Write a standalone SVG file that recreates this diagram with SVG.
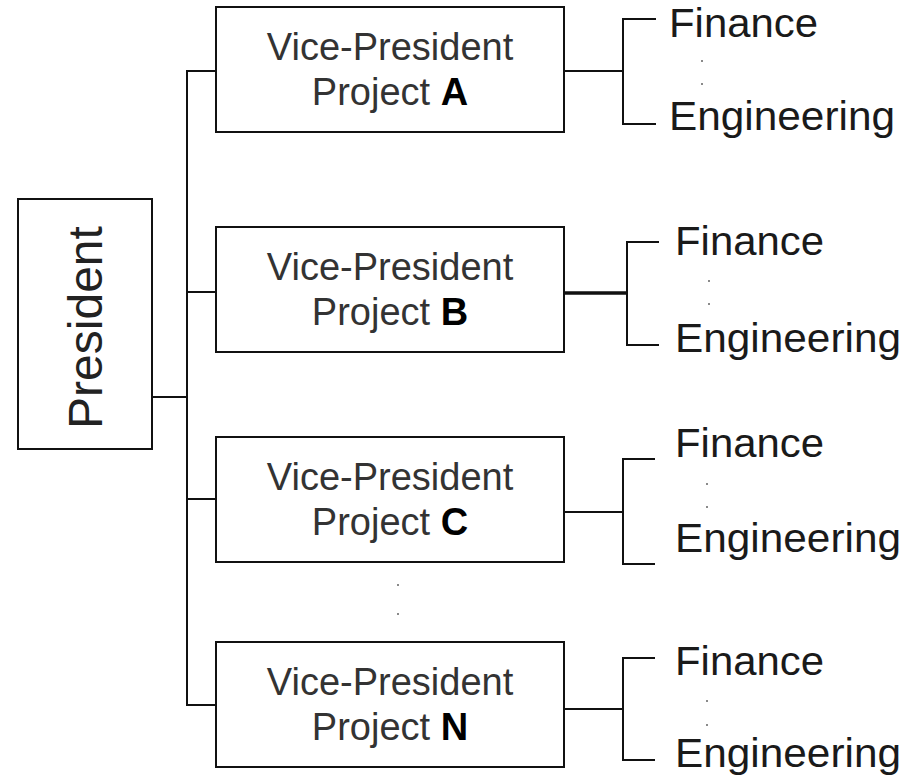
<svg xmlns="http://www.w3.org/2000/svg" width="910" height="778" viewBox="0 0 910 778">
  <style>
    .box { fill: #ffffff; stroke: #111111; stroke-width: 2; }
    .wire { fill: none; stroke: #111111; stroke-width: 2; }
    .wire-bold { fill: none; stroke: #111111; stroke-width: 3.5; }
    .vp { font-family: "Liberation Sans", Arial, sans-serif; font-size: 38px; fill: #333333; text-anchor: middle; }
    .vp .key { font-weight: bold; fill: #000000; }
    .dept { font-family: "Liberation Sans", Arial, sans-serif; font-size: 40px; fill: #1a1a1a; }
    .pres { font-family: "Liberation Sans", Arial, sans-serif; font-size: 48px; fill: #222222; text-anchor: middle; }
    .dot { fill: #8a8a8a; }
  </style>

  <!-- connectors -->
  <g id="connectors">
    <!-- president to trunk -->
    <path class="wire" d="M152 397 H187"/>
    <!-- trunk and branches to vice-presidents -->
    <path class="wire" d="M216 71 H187 V705 H216"/>
    <path class="wire" d="M187 292 H216"/>
    <path class="wire" d="M187 499 H216"/>
    <!-- department brackets -->
    <path class="wire" d="M564 71 H623"/>
    <path class="wire" d="M656 19 H623 V124 H656"/>

    <path class="wire-bold" d="M564 293 H628"/>
    <path class="wire" d="M659 242 H627 V345 H659"/>

    <path class="wire" d="M564 512 H623"/>
    <path class="wire" d="M655 459 H623 V564 H655"/>

    <path class="wire" d="M564 709 H623"/>
    <path class="wire" d="M655 658 H623 V760 H655"/>
  </g>

  <!-- president -->
  <g id="president">
    <rect class="box" x="18" y="199" width="134" height="250"/>
    <text class="pres" transform="translate(102 327.5) rotate(-90)">President</text>
  </g>

  <!-- vice-presidents -->
  <g id="vp-a">
    <rect class="box" x="216" y="7" width="348" height="125"/>
    <text class="vp" x="390" y="60">Vice-President</text>
    <text class="vp" x="390" y="105">Project <tspan class="key">A</tspan></text>
  </g>
  <g id="vp-b">
    <rect class="box" x="216" y="227" width="348" height="125"/>
    <text class="vp" x="390" y="280">Vice-President</text>
    <text class="vp" x="390" y="325">Project <tspan class="key">B</tspan></text>
  </g>
  <g id="vp-c">
    <rect class="box" x="216" y="437" width="348" height="125"/>
    <text class="vp" x="390" y="490">Vice-President</text>
    <text class="vp" x="390" y="535">Project <tspan class="key">C</tspan></text>
  </g>
  <g id="vp-ellipsis">
    <rect class="dot" x="397" y="584" width="2" height="2"/>
    <rect class="dot" x="397" y="613" width="2" height="2"/>
  </g>
  <g id="vp-n">
    <rect class="box" x="216" y="642" width="348" height="125"/>
    <text class="vp" x="390" y="695">Vice-President</text>
    <text class="vp" x="390" y="740">Project <tspan class="key">N</tspan></text>
  </g>

  <!-- departments -->
  <g id="dept-a">
    <text class="dept" x="669" y="37" textLength="149" lengthAdjust="spacingAndGlyphs">Finance</text>
    <rect class="dot" x="701" y="60" width="2" height="2"/>
    <rect class="dot" x="701" y="83" width="2" height="2"/>
    <text class="dept" x="669" y="130" textLength="226" lengthAdjust="spacingAndGlyphs">Engineering</text>
  </g>
  <g id="dept-b">
    <text class="dept" x="675" y="255" textLength="149" lengthAdjust="spacingAndGlyphs">Finance</text>
    <rect class="dot" x="708" y="280" width="2" height="2"/>
    <rect class="dot" x="708" y="303" width="2" height="2"/>
    <text class="dept" x="675" y="352" textLength="226" lengthAdjust="spacingAndGlyphs">Engineering</text>
  </g>
  <g id="dept-c">
    <text class="dept" x="675" y="457" textLength="149" lengthAdjust="spacingAndGlyphs">Finance</text>
    <rect class="dot" x="706" y="483" width="2" height="2"/>
    <rect class="dot" x="706" y="506" width="2" height="2"/>
    <text class="dept" x="675" y="552" textLength="226" lengthAdjust="spacingAndGlyphs">Engineering</text>
  </g>
  <g id="dept-n">
    <text class="dept" x="675" y="675" textLength="149" lengthAdjust="spacingAndGlyphs">Finance</text>
    <rect class="dot" x="706" y="700" width="2" height="2"/>
    <rect class="dot" x="706" y="724" width="2" height="2"/>
    <text class="dept" x="675" y="767" textLength="226" lengthAdjust="spacingAndGlyphs">Engineering</text>
  </g>
</svg>
